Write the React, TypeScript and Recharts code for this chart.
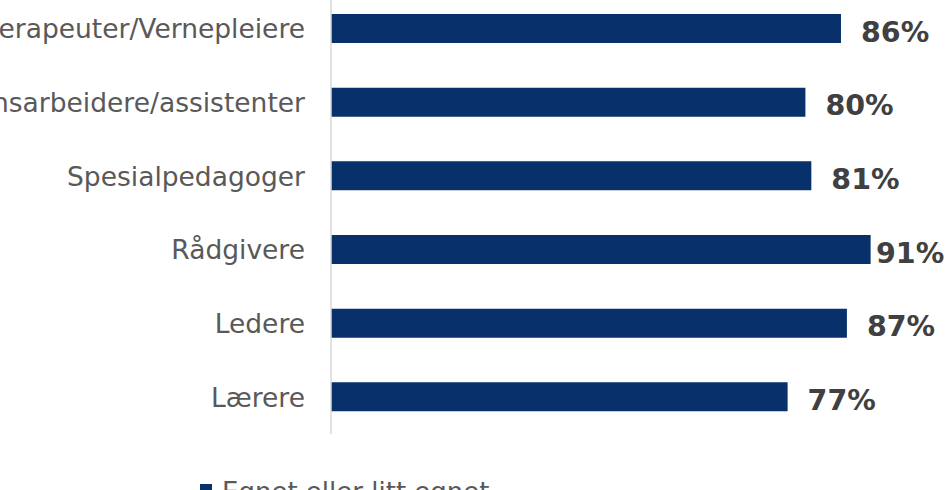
import React from 'react';
import { BarChart, Bar, XAxis, YAxis, LabelList, Legend } from 'recharts';

const categories = [
  'Miljøterapeuter/Vernepleiere',
  'Barne- og ungdomsarbeidere/assistenter',
  'Spesialpedagoger',
  'Rådgivere',
  'Ledere',
  'Lærere',
];
const egnet = [86, 80, 81, 91, 87, 77];

const SERIES_NAME = 'Egnet eller litt egnet';
const NAVY = '#08316b';
const FONT = 'Verdana, "DejaVu Sans", sans-serif';
const CHART_W = 949;

const rows = categories.map((name, i) => ({ name, value: egnet[i] }));

// value label to the right of the bar, pulled back inside the chart when it would run off the edge
function ValueLabel(props: any) {
  const { x, y, width, height, value } = props;
  const labelW = 70;
  const left = Math.min(x + width + 20, CHART_W - 3 - labelW);
  return (
    <text
      x={left}
      y={y + height / 2 + 3}
      dy="0.36em"
      fill="#404040"
      fontSize={28.5}
      fontWeight="bold"
      fontFamily={FONT}
    >
      {`${value}%`}
    </text>
  );
}

function LegendBox() {
  return (
    <div
      style={{
        display: 'flex',
        alignItems: 'flex-start',
        fontFamily: FONT,
        fontSize: 26,
        lineHeight: '30px',
        color: '#595959',
        whiteSpace: 'nowrap',
      }}
    >
      <span
        style={{ width: 12, height: 12, background: NAVY, marginRight: 10, marginTop: 7, display: 'inline-block' }}
      />
      {SERIES_NAME}
    </div>
  );
}

export default function App() {
  return (
    <div style={{ position: 'fixed', left: 0, top: 0, width: 949, height: 490, overflow: 'hidden', background: '#fff' }}>
      <div style={{ position: 'absolute', left: 0, top: -8 }}>
        <BarChart
          width={CHART_W}
          height={530}
          data={rows}
          layout="vertical"
          margin={{ top: 0, right: 25, bottom: 58, left: 0 }}
        >
          <XAxis type="number" domain={[0, 100]} hide />
          <YAxis
            type="category"
            dataKey="name"
            width={331}
            tickLine={false}
            tickSize={0}
            tickMargin={26}
            axisLine={{ stroke: '#d9d9d9', strokeWidth: 1.5 }}
            tick={{ fill: '#595959', fontSize: 26.5, fontFamily: FONT }}
            interval={0}
          />
          <Legend
            content={() => <LegendBox />}
            wrapperStyle={{ left: 200, top: 485, width: 'auto', height: 30 }}
          />
          <Bar dataKey="value" name={SERIES_NAME} fill={NAVY} barSize={29} isAnimationActive={false}>
            <LabelList dataKey="value" content={<ValueLabel />} />
          </Bar>
        </BarChart>
      </div>
    </div>
  );
}
